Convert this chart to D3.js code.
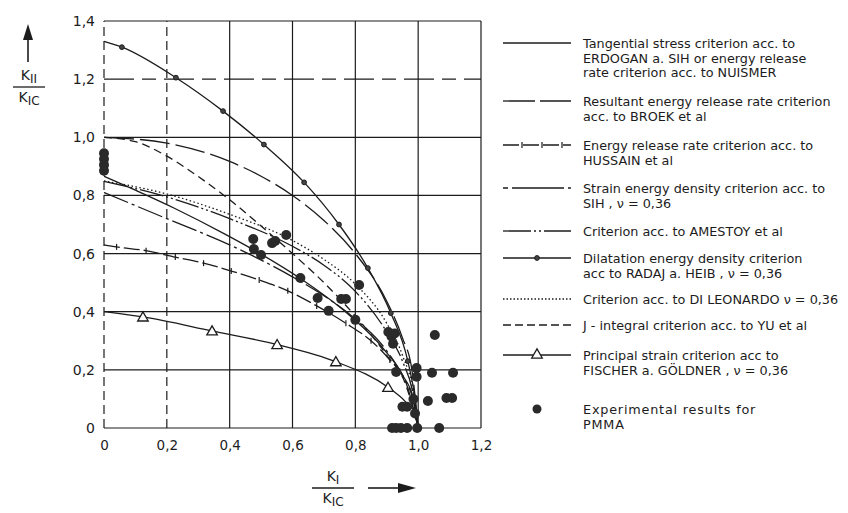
<!DOCTYPE html>
<html>
<head>
<meta charset="utf-8">
<script src="https://cdn.jsdelivr.net/npm/d3@7"></script>
<style>
  body { margin: 0; background: #fff; }
  text { font-family: "DejaVu Sans", sans-serif; fill: #1c1c1c; }
</style>
</head>
<body>
<div id="chart"></div>
<script>
// Tick values and labels (decimal comma as in the original).
const xTicks = [0, 0.2, 0.4, 0.6, 0.8, 1.0, 1.2];
const xTickLabels = ["0", "0,2", "0,4", "0,6", "0,8", "1,0", "1,2"];
const yTicks = [0, 0.2, 0.4, 0.6, 0.8, 1.0, 1.2, 1.4];
const yTickLabels = ["0", "0,2", "0,4", "0,6", "0,8", "1,0", "1,2", "1,4"];

// Criteria curves: K_I/K_IC (x) and K_II/K_IC (y).
const tangentialX = [0, 0.1, 0.224, 0.385, 0.5, 0.624, 0.782, 0.886, 0.952, 0.985, 1];
const tangentialY = [0.866, 0.818, 0.756, 0.667, 0.598, 0.515, 0.387, 0.277, 0.179, 0.1, 0];

const broekX = [0, 0.2, 0.4, 0.5, 0.6, 0.7, 0.8, 0.9, 0.95, 0.98, 1];
const broekY = [1, 0.98, 0.917, 0.866, 0.8, 0.714, 0.6, 0.436, 0.31, 0.2, 0];

const hussainX = [0, 0.04, 0.134, 0.227, 0.317, 0.405, 0.494, 0.585, 0.677, 0.77, 0.85, 0.91, 0.96, 1];
const hussainY = [0.63, 0.623, 0.61, 0.588, 0.567, 0.54, 0.509, 0.472, 0.42, 0.36, 0.3, 0.234, 0.16, 0];

const sihX = [0, 0.1, 0.2, 0.4, 0.6, 0.7, 0.8, 0.9, 0.95, 0.985, 1];
const sihY = [0.81, 0.765, 0.72, 0.63, 0.52, 0.455, 0.375, 0.265, 0.18, 0.09, 0];

const amestoyX = [0, 0.2, 0.4, 0.6, 0.7, 0.8, 0.9, 0.95, 0.985, 1];
const amestoyY = [0.848, 0.795, 0.72, 0.625, 0.56, 0.47, 0.33, 0.23, 0.11, 0];

const radajX = [0, 0.057, 0.229, 0.379, 0.509, 0.637, 0.748, 0.84, 0.913, 0.967, 0.99, 1];
const radajY = [1.33, 1.31, 1.205, 1.09, 0.975, 0.845, 0.7, 0.55, 0.395, 0.23, 0.1, 0];

const leonardoX = [0, 0.2, 0.4, 0.6, 0.7, 0.8, 0.9, 0.95, 0.985, 1];
const leonardoY = [0.85, 0.805, 0.735, 0.645, 0.58, 0.495, 0.36, 0.25, 0.12, 0];

const yuX = [0, 0.1, 0.2, 0.3, 0.4, 0.5, 0.6, 0.7, 0.8, 0.9, 0.96, 1];
const yuY = [1, 0.985, 0.935, 0.865, 0.785, 0.695, 0.6, 0.5, 0.385, 0.25, 0.15, 0];

const fischerX = [0, 0.124, 0.344, 0.551, 0.738, 0.904, 0.96, 0.99, 1];
const fischerY = [0.4, 0.382, 0.334, 0.287, 0.228, 0.14, 0.09, 0.05, 0];

// Experimental results for PMMA.
const expX = [0, 0, 0, 0, 0.475, 0.477, 0.5, 0.535, 0.545, 0.58, 0.625,
    0.68, 0.755, 0.77, 0.715, 0.8, 0.812, 0.905, 0.915, 0.925, 0.92,
    0.93, 0.995, 0.995, 1.053, 1.044, 1.111, 1.031, 1.09, 1.108,
    0.95, 0.965, 0.985, 0.99, 0.917, 0.93, 0.945, 0.965, 0.997, 1.067];
const expY = [0.945, 0.925, 0.905, 0.885, 0.65, 0.616, 0.595, 0.636, 0.643, 0.664, 0.516,
    0.447, 0.444, 0.444, 0.403, 0.372, 0.492, 0.33, 0.315, 0.325, 0.29,
    0.193, 0.206, 0.176, 0.32, 0.19, 0.19, 0.093, 0.103, 0.103,
    0.073, 0.073, 0.1, 0.05, 0, 0, 0, 0, 0, 0];

const width = 848;
const height = 513;
const ink = "#1c1c1c";

const svg = d3.select("#chart")
    .append("svg")
    .attr("width", width)
    .attr("height", height)
    .attr("viewBox", `0 0 ${width} ${height}`);

svg.append("rect").attr("width", width).attr("height", height).attr("fill", "#fff");

const x = d3.scaleLinear().domain([0, 1.2]).range([104, 481]);
const y = d3.scaleLinear().domain([0, 1.4]).range([428, 21]);

// Grid (the two left verticals and the 1,2 line are broken in the scan).
const grid = svg.append("g").attr("stroke", ink).attr("stroke-width", 1.2);
grid.selectAll("line.v")
    .data(xTicks)
    .enter()
    .append("line")
    .attr("x1", d => x(d)).attr("x2", d => x(d))
    .attr("y1", y(0)).attr("y2", y(1.4))
    .attr("stroke-dasharray", d => d < 0.3 ? "9,5" : null);
grid.selectAll("line.h")
    .data(yTicks)
    .enter()
    .append("line")
    .attr("x1", x(0)).attr("x2", x(1.2))
    .attr("y1", d => y(d)).attr("y2", d => y(d))
    .attr("stroke-dasharray", d => d > 1.1 && d < 1.3 ? "30,8,14,8" : null);

// Axis labels.
svg.append("g")
    .attr("transform", `translate(0,${y(0)})`)
    .call(d3.axisBottom(x).tickValues(xTicks).tickSize(0).tickPadding(12)
        .tickFormat((d, i) => xTickLabels[i]))
    .call(g => g.select(".domain").remove())
    .selectAll("text")
    .attr("font-size", "13.5px")
    .attr("fill", ink);

svg.append("g")
    .attr("transform", `translate(${x(0) - 9},0)`)
    .call(d3.axisLeft(y).tickValues(yTicks).tickSize(0).tickPadding(0)
        .tickFormat((d, i) => yTickLabels[i]))
    .call(g => g.select(".domain").remove())
    .selectAll("text")
    .attr("font-size", "14px")
    .attr("fill", ink);

// Curves.
const line = d3.line()
    .x(d => x(d[0]))
    .y(d => y(d[1]))
    .curve(d3.curveMonotoneX);

const zip = (xs, ys) => xs.map((v, i) => [v, ys[i]]);

const series = [
    {pts: zip(tangentialX, tangentialY), dash: null},
    {pts: zip(broekX, broekY), dash: "30,6"},
    {pts: zip(hussainX, hussainY), dash: "16,4"},
    {pts: zip(sihX, sihY), dash: "26,4,3,4"},
    {pts: zip(amestoyX, amestoyY), dash: "24,3,2,3,2,3"},
    {pts: zip(radajX, radajY), dash: null},
    {pts: zip(leonardoX, leonardoY), dash: "1.5,2.5"},
    {pts: zip(yuX, yuY), dash: "8,5"},
    {pts: zip(fischerX, fischerY), dash: null}
];

svg.selectAll("path.curve")
    .data(series)
    .enter()
    .append("path")
    .attr("class", "curve")
    .attr("d", d => line(d.pts))
    .attr("fill", "none")
    .attr("stroke", ink)
    .attr("stroke-width", 1.3)
    .attr("stroke-dasharray", d => d.dash);

// Markers on Hussain (ticks), Radaj (dots), Fischer (triangles).
svg.selectAll("line.tick")
    .data(zip(hussainX, hussainY).slice(1, -2))
    .enter()
    .append("line")
    .attr("x1", d => x(d[0])).attr("x2", d => x(d[0]))
    .attr("y1", d => y(d[1]) - 3).attr("y2", d => y(d[1]) + 3)
    .attr("stroke", ink)
    .attr("stroke-width", 1.2);

svg.selectAll("circle.dot")
    .data(zip(radajX, radajY).slice(1, 10))
    .enter()
    .append("circle")
    .attr("cx", d => x(d[0]))
    .attr("cy", d => y(d[1]))
    .attr("r", 2.4)
    .attr("fill", "#444")
    .attr("stroke", ink);

const tri = d3.symbol().type(d3.symbolTriangle).size(48);
svg.selectAll("path.tri")
    .data(zip(fischerX, fischerY).slice(1, 6))
    .enter()
    .append("path")
    .attr("d", tri)
    .attr("transform", d => `translate(${x(d[0])},${y(d[1]) + 1})`)
    .attr("fill", "#fff")
    .attr("stroke", ink)
    .attr("stroke-width", 1.3);

// Experimental points.
svg.selectAll("circle.exp")
    .data(zip(expX, expY))
    .enter()
    .append("circle")
    .attr("cx", d => x(d[0]))
    .attr("cy", d => y(d[1]))
    .attr("r", 5)
    .attr("fill", "#2a2a2a");

// Axis titles: K_II / K_IC with arrow up, K_I / K_IC with arrow right.
const frac = (cx, cy, top, topSub, barW) => {
    const t = svg.append("text").attr("x", cx).attr("y", cy - 7)
        .attr("text-anchor", "middle").attr("font-size", "14px");
    t.append("tspan").text(top);
    t.append("tspan").attr("font-size", "12px").attr("dy", 3).text(topSub);
    svg.append("line")
        .attr("x1", cx - barW / 2).attr("x2", cx + barW / 2)
        .attr("y1", cy).attr("y2", cy)
        .attr("stroke", ink).attr("stroke-width", 1.3);
    const b = svg.append("text").attr("x", cx).attr("y", cy + 15)
        .attr("text-anchor", "middle").attr("font-size", "14px");
    b.append("tspan").text("K");
    b.append("tspan").attr("font-size", "12px").attr("dy", 3).text("IC");
};
frac(29, 87, "K", "II", 32);
frac(333, 488, "K", "I", 42);

svg.append("line")
    .attr("x1", 28).attr("x2", 28).attr("y1", 62).attr("y2", 38)
    .attr("stroke", ink).attr("stroke-width", 1.6);
svg.append("path")
    .attr("d", "M 23 40 L 33 40 L 28 24 Z")
    .attr("fill", ink);
svg.append("line")
    .attr("x1", 368).attr("x2", 400).attr("y1", 488).attr("y2", 488)
    .attr("stroke", ink).attr("stroke-width", 1.6);
svg.append("path")
    .attr("d", "M 398 483 L 398 493 L 416 488 Z")
    .attr("fill", ink);

// Legend.
const legendItems = [
    {y: 43, dash: null, marker: null, lines: ["Tangential stress criterion acc. to", "ERDOGAN a. SIH  or  energy release", "rate criterion acc. to NUISMER"]},
    {y: 101, dash: "32,5", marker: null, lines: ["Resultant energy release rate criterion", "acc. to BROEK et al"]},
    {y: 145, dash: "16,4", marker: "tick", lines: ["Energy release rate criterion acc. to", "HUSSAIN et al"]},
    {y: 188, dash: "5,4,52,4,5", marker: null, lines: ["Strain energy density criterion acc. to", "SIH ,  ν = 0,36"]},
    {y: 231, dash: "28,3,2,3,2,3", marker: null, lines: ["Criterion acc. to AMESTOY et al"]},
    {y: 258, dash: null, marker: "dot", lines: ["Dilatation energy density criterion", "acc to RADAJ a. HEIB ,  ν = 0,36"]},
    {y: 299, dash: "1.5,2", marker: null, lines: ["Criterion acc. to DI LEONARDO  ν = 0,36"]},
    {y: 325, dash: "8,4", marker: null, lines: ["J - integral criterion acc. to YU et al"]},
    {y: 355, dash: null, marker: "tri", lines: ["Principal strain criterion acc to", "FISCHER a. GÖLDNER ,  ν = 0,36"]},
    {y: 409, dash: "none", marker: "exp", lines: ["Experimental  results  for", "PMMA"]}
];

const legend = svg.append("g");
legendItems.forEach((item) => {
    if (item.dash !== "none") {
        legend.append("line")
            .attr("x1", 503).attr("x2", 571)
            .attr("y1", item.y).attr("y2", item.y)
            .attr("stroke", ink).attr("stroke-width", 1.3)
            .attr("stroke-dasharray", item.dash);
    }
    if (item.marker === "tick") {
        [522, 542, 562].forEach(tx => legend.append("line")
            .attr("x1", tx).attr("x2", tx).attr("y1", item.y - 3).attr("y2", item.y + 3)
            .attr("stroke", ink).attr("stroke-width", 1.2));
    } else if (item.marker === "dot") {
        legend.append("circle").attr("cx", 537).attr("cy", item.y).attr("r", 2.4)
            .attr("fill", "#444").attr("stroke", ink);
    } else if (item.marker === "tri") {
        legend.append("path").attr("d", tri)
            .attr("transform", `translate(537,${item.y})`)
            .attr("fill", "#fff").attr("stroke", ink).attr("stroke-width", 1.3);
    } else if (item.marker === "exp") {
        legend.append("circle").attr("cx", 537).attr("cy", item.y).attr("r", 4.5)
            .attr("fill", "#2a2a2a");
    }
    item.lines.forEach((txt, i) => {
        legend.append("text")
            .attr("x", 583)
            .attr("y", item.y + 5 + i * 14.5)
            .attr("font-size", "12.8px")
            .attr("letter-spacing", item.marker === "exp" ? "0.8px" : null)
            .text(txt);
    });
});
</script>
</body>
</html>
